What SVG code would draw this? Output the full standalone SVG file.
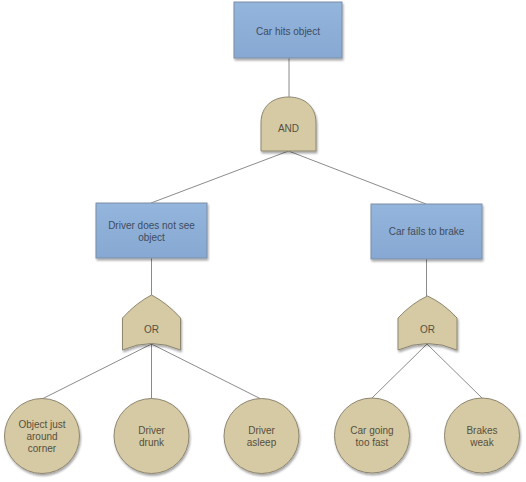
<svg xmlns="http://www.w3.org/2000/svg" width="526" height="482" viewBox="0 0 526 482">
<defs>
<linearGradient id="blue" x1="0" y1="0" x2="0" y2="1"><stop offset="0" stop-color="#94b5dc"/><stop offset="1" stop-color="#86a8d2"/></linearGradient>
<filter id="sh" x="-20%" y="-20%" width="140%" height="140%"><feGaussianBlur in="SourceAlpha" stdDeviation="1.2"/><feOffset dx="1" dy="1.5" result="b"/><feComponentTransfer><feFuncA type="linear" slope="0.35"/></feComponentTransfer><feMerge><feMergeNode/><feMergeNode in="SourceGraphic"/></feMerge></filter>
</defs>
<style>
.box{fill:url(#blue);stroke:#7d8ea6;stroke-width:1;filter:url(#sh)}
.tan{fill:#d5caa4;stroke:#8e8670;stroke-width:1;filter:url(#sh)}
.bt{font-family:"Liberation Sans",Arial,sans-serif;font-size:10px;fill:#3e4c5e;text-anchor:middle;dominant-baseline:central}
.tt{font-family:"Liberation Sans",Arial,sans-serif;font-size:10px;fill:#55503f;text-anchor:middle;dominant-baseline:central}
.ln{stroke:#6d6d6d;stroke-width:0.8;fill:none}
</style>
<rect width="526" height="482" fill="#ffffff"/>
<g id="connectors">
<line class="ln" x1="289" y1="58" x2="289" y2="97"/>
<line class="ln" x1="288.5" y1="151" x2="151" y2="203"/>
<line class="ln" x1="288.5" y1="151" x2="426" y2="204"/>
<line class="ln" x1="151.5" y1="258" x2="151.5" y2="295"/>
<line class="ln" x1="426.5" y1="259" x2="426.5" y2="296"/>
<line class="ln" x1="151.5" y1="344" x2="42" y2="399"/>
<line class="ln" x1="151.5" y1="344" x2="151.5" y2="399"/>
<line class="ln" x1="151.5" y1="344" x2="261" y2="399"/>
<line class="ln" x1="427" y1="344" x2="372" y2="398"/>
<line class="ln" x1="427" y1="344" x2="482" y2="398"/>
</g>
<g id="top-event">
<rect class="box" x="234" y="2" width="108" height="56"/>
<text class="bt" x="288" y="31">Car hits object</text>
</g>
<g id="and-gate">
<path class="tan" d="M261,151 L261,123 C261,106 273,97 288.5,97 C304,97 316,106 316,123 L316,151 Z"/>
<text class="tt" x="288.5" y="128">AND</text>
</g>
<g id="driver-does-not-see">
<rect class="box" x="96" y="203" width="111" height="55"/>
<text class="bt" x="151.5" y="225">Driver does not see</text>
<text class="bt" x="151.5" y="237">object</text>
</g>
<g id="car-fails-to-brake">
<rect class="box" x="371" y="204" width="111" height="55"/>
<text class="bt" x="426.5" y="231">Car fails to brake</text>
</g>
<g id="or-gate-left">
<path class="tan" d="M122.5,350 L122.5,318 Q136,303 151.5,295 Q167,303 180.5,318 L180.5,350 Q151.5,337 122.5,350 Z"/>
<text class="tt" x="151.5" y="329">OR</text>
</g>
<g id="or-gate-right">
<path class="tan" d="M398,350 L398,318 Q412,303 427.5,296 Q443,303 457,318 L457,350 Q427.5,337 398,350 Z"/>
<text class="tt" x="427.5" y="329">OR</text>
</g>
<g id="object-around-corner">
<circle class="tan" cx="42" cy="436" r="37.5"/>
<text class="tt" x="42" y="424">Object just</text>
<text class="tt" x="42" y="436">around</text>
<text class="tt" x="42" y="448">corner</text>
</g>
<g id="driver-drunk">
<circle class="tan" cx="151.5" cy="436" r="37.5"/>
<text class="tt" x="151.5" y="430">Driver</text>
<text class="tt" x="151.5" y="442">drunk</text>
</g>
<g id="driver-asleep">
<circle class="tan" cx="261.5" cy="436" r="37.5"/>
<text class="tt" x="261.5" y="430">Driver</text>
<text class="tt" x="261.5" y="442">asleep</text>
</g>
<g id="car-too-fast">
<circle class="tan" cx="372" cy="435.5" r="37.5"/>
<text class="tt" x="372" y="430">Car going</text>
<text class="tt" x="372" y="442">too fast</text>
</g>
<g id="brakes-weak">
<circle class="tan" cx="482" cy="435.5" r="37.5"/>
<text class="tt" x="482" y="430">Brakes</text>
<text class="tt" x="482" y="442">weak</text>
</g>
</svg>
